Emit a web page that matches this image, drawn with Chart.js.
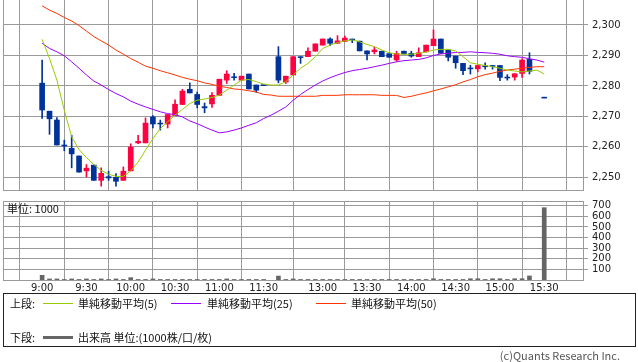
<!DOCTYPE html>
<html>
<head>
<meta charset="utf-8">
<script src="https://cdn.jsdelivr.net/npm/chart.js@4.4.0/dist/chart.umd.min.js"></script>
<style>
body { margin: 0; background: #fff; width: 638px; height: 362px; position: relative; overflow: hidden; font-family: "Noto Sans CJK JP", sans-serif; }
#price { position: absolute; left: 0; top: -4px; }
#vol { position: absolute; left: 0; top: 195px; }
.box { position: absolute; left: 3px; top: 293px; width: 631px; height: 52px; border: 1px solid #222; }
.t { position: absolute; font-size: 11px; line-height: 14px; color: #111; white-space: nowrap; }
.ln { position: absolute; height: 1px; width: 30px; }
.copy { position: absolute; right: 18px; top: 348px; font-size: 11px; line-height: 14px; color: #555; }
</style>
</head>
<body>
<canvas id="price" width="638" height="195"></canvas>
<canvas id="vol" width="638" height="100"></canvas>

<div class="box"></div>
<span class="t" style="left:10px;top:296px">上段:</span>
<i class="ln" style="left:43px;top:303px;background:#99cc00"></i>
<span class="t" style="left:78px;top:296px">単純移動平均(5)</span>
<i class="ln" style="left:171px;top:303px;background:#9900ff"></i>
<span class="t" style="left:207px;top:296px">単純移動平均(25)</span>
<i class="ln" style="left:316px;top:303px;background:#ff3300"></i>
<span class="t" style="left:351px;top:296px">単純移動平均(50)</span>
<span class="t" style="left:10px;top:330px">下段:</span>
<i class="ln" style="left:43px;top:336px;height:3px;background:#666"></i>
<span class="t" style="left:78px;top:330px">出来高 単位:(1000株/口/枚)</span>
<span class="copy">(c)Quants Research Inc.</span>

<script>
// time axis (5 min bars, index 31 / 67 are empty slots)
const tickIdx = [0, 6, 12, 18, 24, 30, 38, 44, 50, 56, 62, 68];
const tickLabels = ['9:00', '9:30', '10:00', '10:30', '11:00', '11:30', '13:00', '13:30', '14:00', '14:30', '15:00', '15:30'];
const priceTicks = [2250, 2260, 2270, 2280, 2290, 2300];
const volTicks = [100, 200, 300, 400, 500, 600, 700];

const opens = [2280.9, 2271.7, 2268.8, 2260.6, 2259.5, 2257.0, 2252.1, 2254.0, 2249.0, 2250.2,
  2250.0, 2249.0, 2252.1, 2261.3, 2261.3, 2269.8, 2267.8, 2267.5, 2270.3, 2273.9,
  2278.9, 2277.2, 2273.2, 2274.1, 2276.9, 2281.9, 2283.0, 2281.9, 2283.9, 2280.3,
  2280.4, null, 2289.6, 2281.3, 2283.6, 2289.6, 2289.6, 2291.4, 2293.4, 2295.4,
  2294.0, 2294.6, 2295.4, 2294.7, 2291.5, 2291.2, 2291.4, 2290.6, 2288.5, 2291.4,
  2290.7, 2289.6, 2291.2, 2293.2, 2295.4, 2291.8, 2289.8, 2287.4, 2285.9, 2285.6,
  2286.6, 2286.7, 2286.7, 2282.9, 2282.9, 2284.1, 2288.7, null, 2276.3];
const highs = [2288.5, 2271.7, 2269.6, 2262.2, 2263.8, 2257.0, 2254.2, 2254.0, 2253.1, 2252.0,
  2251.2, 2253.4, 2261.0, 2263.8, 2269.5, 2270.3, 2268.8, 2270.6, 2275.4, 2278.9,
  2281.0, 2278.0, 2274.4, 2277.8, 2282.2, 2285.0, 2284.1, 2283.2, 2283.9, 2280.3,
  2280.4, null, 2292.9, 2283.2, 2289.6, 2289.6, 2292.5, 2293.8, 2295.4, 2295.8,
  2296.5, 2296.4, 2295.4, 2294.7, 2291.5, 2292.7, 2291.4, 2290.6, 2291.4, 2291.4,
  2291.4, 2292.5, 2293.4, 2298.4, 2295.4, 2291.8, 2289.8, 2287.4, 2286.8, 2286.7,
  2287.6, 2286.7, 2286.7, 2283.7, 2284.0, 2288.9, 2290.9, null, 2276.3];
const lows = [2269.3, 2264.1, 2260.6, 2258.7, 2253.1, 2251.7, 2250.1, 2249.0, 2247.1, 2249.0,
  2247.1, 2249.0, 2252.1, 2261.0, 2261.3, 2266.2, 2265.5, 2266.2, 2270.3, 2273.9,
  2277.7, 2272.8, 2271.2, 2272.9, 2276.9, 2280.8, 2281.9, 2281.9, 2279.0, 2277.9,
  2280.2, null, 2281.0, 2280.8, 2283.6, 2287.4, 2289.6, 2291.4, 2293.4, 2293.2,
  2294.0, 2294.6, 2294.2, 2291.5, 2288.5, 2290.5, 2289.6, 2289.4, 2288.1, 2290.5,
  2289.4, 2289.6, 2291.2, 2293.2, 2290.7, 2288.2, 2285.8, 2283.7, 2283.9, 2284.6,
  2285.5, 2285.5, 2281.7, 2281.9, 2281.9, 2282.8, 2283.9, null, 2276.1];
const closes = [2272.1, 2269.2, 2260.6, 2260.3, 2257.7, 2251.7, 2253.0, 2249.0, 2251.3, 2249.8,
  2248.7, 2252.0, 2259.9, 2261.8, 2267.8, 2267.5, 2267.5, 2270.6, 2274.0, 2278.3,
  2277.7, 2273.9, 2272.8, 2276.9, 2282.2, 2283.9, 2282.7, 2283.2, 2279.0, 2278.6,
  2280.1, null, 2281.9, 2283.2, 2289.6, 2289.3, 2291.4, 2293.8, 2295.4, 2294.0,
  2294.8, 2295.7, 2295.1, 2291.5, 2290.5, 2291.8, 2289.6, 2289.4, 2290.7, 2290.5,
  2289.8, 2290.9, 2293.4, 2295.4, 2290.7, 2289.4, 2287.6, 2285.0, 2285.6, 2286.7,
  2286.3, 2286.4, 2282.8, 2282.6, 2284.0, 2288.5, 2284.8, null, 2276.0];

const ma5 = [2295.3, 2289.0, 2281.9, 2272.0, 2263.3, 2259.1, 2256.5, 2254.2, 2252.3, 2251.0,
  2250.3, 2250.3, 2252.1, 2255.0, 2258.9, 2262.7, 2266.0, 2268.2, 2270.4, 2272.3,
  2274.2, 2275.3, 2275.7, 2276.2, 2277.0, 2278.6, 2280.3, 2281.9, 2282.1, 2281.4,
  2280.6, 2280.3, 2280.3, 2281.4, 2283.6, 2285.8, 2287.4, 2289.6, 2292.3, 2293.4,
  2294.2, 2294.8, 2295.1, 2294.5, 2293.6, 2292.9, 2291.8, 2290.9, 2290.5, 2290.4,
  2290.4, 2290.7, 2291.1, 2291.8, 2292.0, 2292.0, 2291.5, 2289.6, 2287.6, 2287.1,
  2286.7, 2286.3, 2285.8, 2285.2, 2284.9, 2284.6, 2284.9, 2285.2, 2283.9];
const ma25 = [2294.0, 2292.3, 2291.2, 2289.9, 2287.9, 2285.8, 2283.6, 2281.6, 2280.3, 2278.8,
  2277.5, 2276.4, 2275.0, 2274.0, 2273.1, 2272.3, 2271.5, 2270.9, 2270.6, 2269.8,
  2268.5, 2267.6, 2266.5, 2265.5, 2264.6, 2264.9, 2265.5, 2266.2, 2267.1, 2267.9,
  2269.3, 2270.4, 2271.7, 2273.1, 2275.3, 2277.2, 2278.8, 2280.3, 2281.6, 2282.7,
  2283.6, 2284.4, 2285.0, 2285.4, 2285.8, 2286.3, 2286.8, 2287.4, 2287.9, 2288.3,
  2288.5, 2288.7, 2289.2, 2290.0, 2290.5, 2290.7, 2291.0, 2291.0, 2291.2, 2291.0,
  2290.9, 2290.7, 2290.4, 2289.9, 2289.6, 2289.4, 2288.9, 2288.5, 2287.8];
const ma50 = [2306.3, 2304.9, 2303.8, 2302.5, 2301.3, 2299.8, 2298.0, 2296.2, 2294.8, 2293.4,
  2291.8, 2290.4, 2289.0, 2287.8, 2286.5, 2285.8, 2285.0, 2284.3, 2283.6, 2282.8,
  2282.2, 2281.7, 2281.0, 2280.5, 2279.9, 2279.5, 2279.0, 2278.8, 2278.4, 2278.0,
  2277.2, 2277.0, 2276.6, 2276.6, 2276.6, 2276.6, 2276.6, 2276.6, 2276.9, 2276.9,
  2276.9, 2277.1, 2277.1, 2277.1, 2277.1, 2277.1, 2276.9, 2276.9, 2276.9, 2276.2,
  2276.6, 2277.2, 2277.7, 2278.4, 2279.0, 2279.7, 2280.4, 2281.3, 2282.1, 2283.0,
  2283.7, 2284.2, 2284.8, 2285.2, 2285.5, 2285.8, 2286.1, 2286.3, 2286.3];

const volumes = [44, 10, 10, 5, 10, 5, 10, 5, 10, 5,
  10, 5, 22, 5, 5, 10, 5, 5, 5, 5,
  5, 5, 5, 5, 5, 10, 5, 5, 5, 5,
  5, null, 37, 5, 10, 5, 5, 5, 5, 5,
  5, 5, 5, 5, 5, 5, 5, 5, 5, 5,
  5, 5, 5, 12, 5, 5, 5, 5, 12, 12,
  5, 12, 12, 5, 12, 12, 38, null, 682];

const RED = '#ff0040';
const BLUE = '#003399';
const GRID = '#9a9a9a';

let bodies = [], wicks = [], candleColors = [];
opens.forEach((o, i) => {
    if (o == null) return;
    bodies.push({ x: i, y: [o, closes[i]] });
    wicks.push({ x: i, y: [lows[i], highs[i]] });
    candleColors.push(closes[i] > o ? RED : BLUE);
});

function toPoints(arr) {
    return arr.map((v, i) => ({ x: i, y: v })).filter(p => p.y != null);
}

// frame round the plot area
const frame = {
    id: 'frame',
    afterDraw(chart) {
        const a = chart.chartArea, c = chart.ctx;
        c.save();
        c.strokeStyle = GRID;
        c.lineWidth = 1;
        c.strokeRect(Math.round(a.left) + 0.5, Math.round(a.top) + 0.5, Math.round(a.right - a.left), Math.round(a.bottom - a.top));
        c.restore();
    }
};

const unitText = {
    id: 'unitText',
    afterDraw(chart) {
        const c = chart.ctx;
        c.save();
        c.font = '11px "Noto Sans CJK JP"';
        c.fillStyle = '#111';
        c.textBaseline = 'middle';
        c.fillText('単位: 1000', chart.chartArea.left + 4, chart.chartArea.top + 8);
        c.restore();
    }
};

function timeAxis(showLabels) {
    return {
        type: 'linear',
        min: -5.3,
        max: 73.25,
        offset: false,
        afterBuildTicks: s => { s.ticks = tickIdx.map(v => ({ value: v })); },
        afterFit: s => { s.height = showLabels ? 15 : 0; s.paddingLeft = 0; s.paddingRight = 0; },
        ticks: {
            display: showLabels,
            autoSkip: false,
            maxRotation: 0,
            padding: 2,
            color: '#222',
            font: { family: 'DejaVu Sans', size: 10 },
            callback: v => tickLabels[tickIdx.indexOf(v)]
        },
        grid: { color: GRID, drawTicks: false },
        border: { display: false }
    };
}

function valueAxis(min, max, ticks, fmt) {
    return {
        position: 'right',
        min: min,
        max: max,
        afterBuildTicks: s => { s.ticks = ticks.map(v => ({ value: v })); },
        afterFit: s => { s.width = 55; s.paddingTop = 0; s.paddingBottom = 0; },
        ticks: { color: '#222', padding: 4, autoSkip: false, font: { family: 'DejaVu Sans', size: 10 }, callback: fmt },
        grid: { color: GRID, tickLength: 5 },
        border: { color: GRID }
    };
}

new Chart(document.getElementById('price'), {
    type: 'bar',
    data: {
        datasets: [
            { type: 'line', data: toPoints(ma5), borderColor: '#99cc00', borderWidth: 1, pointRadius: 0, order: 0 },
            { type: 'line', data: toPoints(ma25), borderColor: '#9900ff', borderWidth: 1, pointRadius: 0, order: 0 },
            { type: 'line', data: toPoints(ma50), borderColor: '#ff3300', borderWidth: 1, pointRadius: 0, order: 0 },
            { data: bodies, backgroundColor: candleColors, barThickness: 5, grouped: false, order: 1 },
            { data: wicks, backgroundColor: candleColors, barThickness: 1, grouped: false, order: 2 }
        ]
    },
    options: {
        responsive: false,
        animation: false,
        layout: { padding: { left: 3, top: 0, bottom: 1, right: 0 } },
        plugins: { legend: { display: false }, tooltip: { enabled: false } },
        scales: {
            x: timeAxis(false),
            y: valueAxis(2245.83, 2309.52, priceTicks, v => v.toLocaleString('en-US'))
        }
    },
    plugins: [frame]
});

new Chart(document.getElementById('vol'), {
    type: 'bar',
    data: {
        datasets: [
            { data: toPoints(volumes), backgroundColor: '#666', barThickness: 4 }
        ]
    },
    options: {
        responsive: false,
        animation: false,
        layout: { padding: { left: 3, top: 6, bottom: 0, right: 0 } },
        plugins: { legend: { display: false }, tooltip: { enabled: false } },
        scales: {
            x: timeAxis(true),
            y: valueAxis(0, 745, volTicks, v => v)
        }
    },
    plugins: [frame, unitText]
});
</script>
</body>
</html>
